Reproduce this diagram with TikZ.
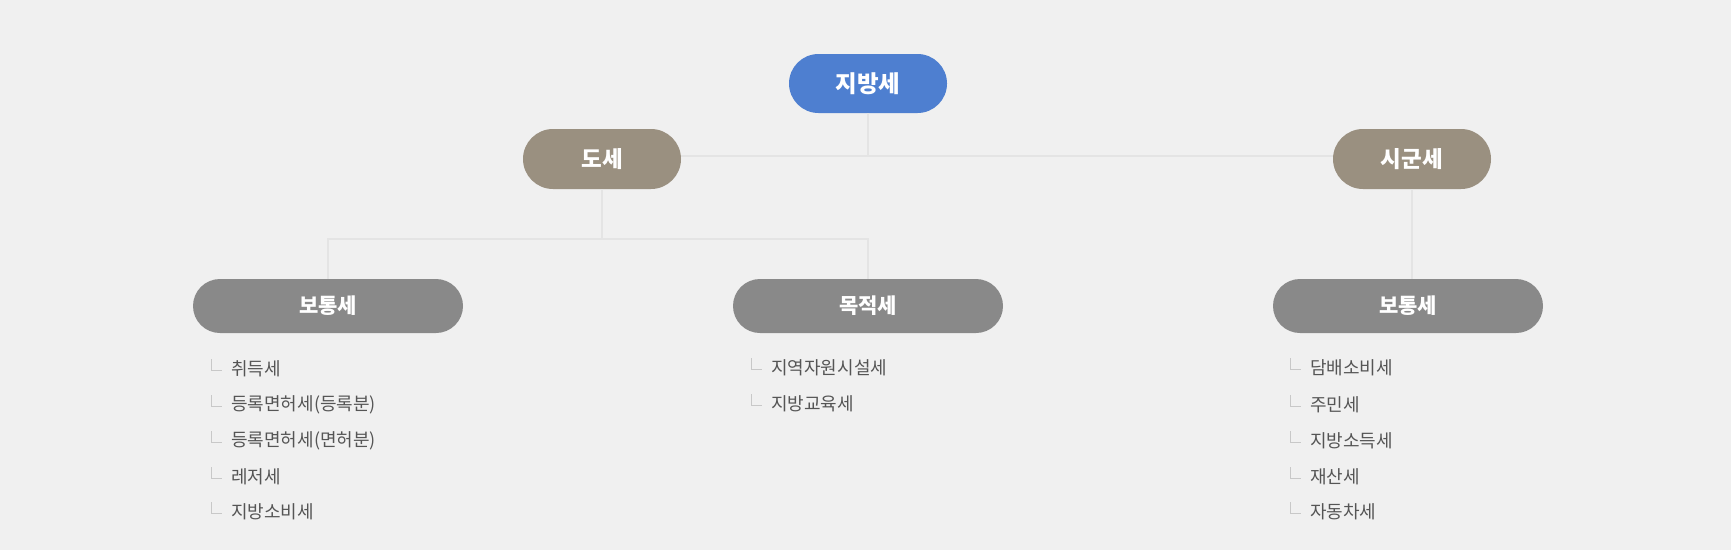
\documentclass[tikz,border=0pt]{standalone}
\usepackage{fontspec}
\setmainfont{Noto Sans CJK KR}
\definecolor{bgc}{HTML}{F0F0F0}
\definecolor{linec}{HTML}{E4E4E4}
\definecolor{bluec}{HTML}{4E7FD0}
\definecolor{tanc}{HTML}{9A9080}
\definecolor{grayc}{HTML}{898989}
\definecolor{itemc}{HTML}{555555}
\definecolor{markc}{HTML}{C8C8C8}
\tikzset{
  pill/.style={rectangle, inner sep=0pt, text=white},
  toppill/.style={pill, fill=bluec, minimum width=158pt, minimum height=59pt, rounded corners=29.5pt,
    font=\fontsize{23.5}{27}\selectfont\bfseries},
  midpill/.style={pill, fill=tanc, minimum width=158pt, minimum height=60pt, rounded corners=30pt,
    font=\fontsize{22.5}{26}\selectfont\bfseries},
  lowpill/.style={pill, fill=grayc, minimum width=270pt, minimum height=54pt, rounded corners=27pt,
    font=\fontsize{21}{25}\selectfont\bfseries},
  item/.style={anchor=west, inner sep=0pt, text=itemc, font=\fontsize{18}{21}\selectfont},
  conn/.style={draw=linec, line width=2.5pt},
  markline/.style={draw=markc, line width=1pt}
}
\newcommand{\listitem}[4]{%
  \node[item] (#1) at (#2,#3) {#4};
  \draw[markline] ([xshift=-20pt,yshift=10pt]#1.west) -- ([xshift=-20pt,yshift=-1pt]#1.west) -- ([xshift=-9pt,yshift=-1pt]#1.west);
}
\begin{document}
\begin{tikzpicture}[x=1pt,y=-1pt]
\fill[bgc] (0,0) rectangle (1731,550);
\useasboundingbox (0,0) rectangle (1731,550);

\node[toppill] (jibang) at (868,83.5) {지방세};
\node[midpill] (dose) at (602,159) {도세};
\node[midpill] (sigun) at (1412,159) {시군세};
\node[lowpill] (bot1) at (328,306) {보통세};
\node[lowpill] (mok) at (868,306) {목적세};
\node[lowpill] (bot2) at (1408,306) {보통세};

\coordinate (J) at (868,156);
\coordinate (K) at (602,239);
\draw[conn] (jibang.south) -- (J);
\draw[conn] (J -| dose.east) -- (J -| sigun.west);
\draw[conn] (dose.south) -- (K);
\draw[conn] (bot1.north) -- (K -| bot1.north) -- (K -| mok.north) -- (mok.north);
\draw[conn] (sigun.south) -- (sigun.south |- bot2.north);

\listitem{a1}{231}{369}{취득세}
\listitem{a2}{231}{405}{등록면허세(등록분)}
\listitem{a3}{231}{441}{등록면허세(면허분)}
\listitem{a4}{231}{477}{레저세}
\listitem{a5}{231}{512}{지방소비세}

\listitem{b1}{771}{368}{지역자원시설세}
\listitem{b2}{771}{404}{지방교육세}

\listitem{c1}{1310}{368}{담배소비세}
\listitem{c2}{1310}{405}{주민세}
\listitem{c3}{1310}{441}{지방소득세}
\listitem{c4}{1310}{477}{재산세}
\listitem{c5}{1310}{512}{자동차세}
\end{tikzpicture}
\end{document}
